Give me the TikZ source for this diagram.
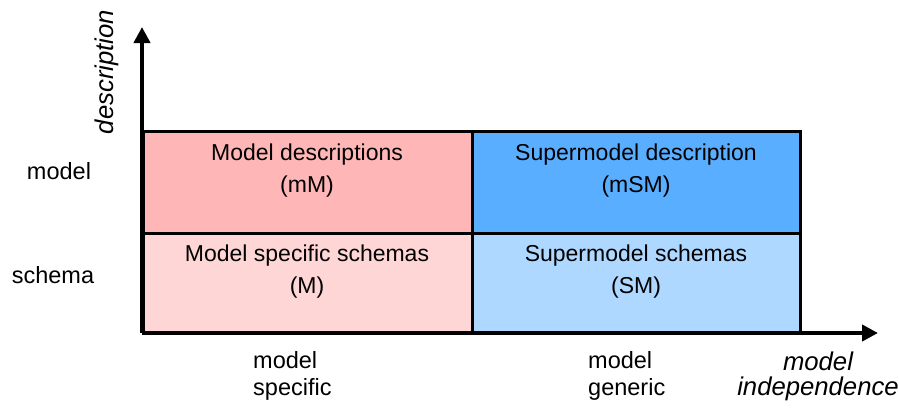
\documentclass[tikz,border=0pt]{standalone}
\usepackage{fontspec}
\setmainfont{Liberation Sans}
\usetikzlibrary{arrows.meta}
\definecolor{redA}{RGB}{255,182,182}
\definecolor{redB}{RGB}{255,214,214}
\definecolor{blueA}{RGB}{90,174,255}
\definecolor{blueB}{RGB}{174,216,255}
\begin{document}
\begin{tikzpicture}[x=1pt,y=-1pt,
  cell/.style={draw=black,line width=3pt},
  celltext/.style={inner sep=0pt,anchor=base,align=center,font=\fontsize{23}{32}\selectfont},
  lab/.style={inner sep=0pt,anchor=base,font=\fontsize{23.5}{27}\selectfont},
  axlab/.style={inner sep=0pt,font=\fontsize{25.7}{25}\selectfont\itshape},
  axis/.style={line width=4pt,-{Triangle[length=16pt,width=16pt]}}]
\useasboundingbox (0,0) rectangle (899,407);
% cells
\path[cell,fill=redA] (143,131) rectangle (472,233);
\path[cell,fill=blueA] (472,131) rectangle (800,233);
\path[cell,fill=redB] (143,233) rectangle (472,333);
\path[cell,fill=blueB] (472,233) rectangle (800,333);
\coordinate (o) at (142,333);
\coordinate (ytip) at (142,27);
\coordinate (xtip) at (878,333);
\draw[axis] (o) -- (ytip);
\draw[axis] (o) -- (xtip);
% cell texts (base = last line baseline)
\node[celltext] (mM) at (307,192) {Model descriptions\\(mM)};
\node[celltext] (mSM) at (636,192) {Supermodel description\\(mSM)};
\node[celltext] (M) at (307,293) {Model specific schemas\\(M)};
\node[celltext] (SM) at (636,293) {Supermodel schemas\\(SM)};
% row labels
\node[lab] (rmodel) at (59,179) {model};
\node[lab] (rschema) at (53,283) {schema};
% column labels
\node[lab,anchor=base west,align=left] (cspec) at (253,395) {model\\specific};
\node[lab,anchor=base west,align=left] (cgen) at (588,395) {model\\generic};
% axis labels
\node[axlab,anchor=base,align=center] (xlab) at (818,395) {model\\independence};
\node[axlab,rotate=90,anchor=base] (ylab) at (113,72) {description};
\end{tikzpicture}
\end{document}
